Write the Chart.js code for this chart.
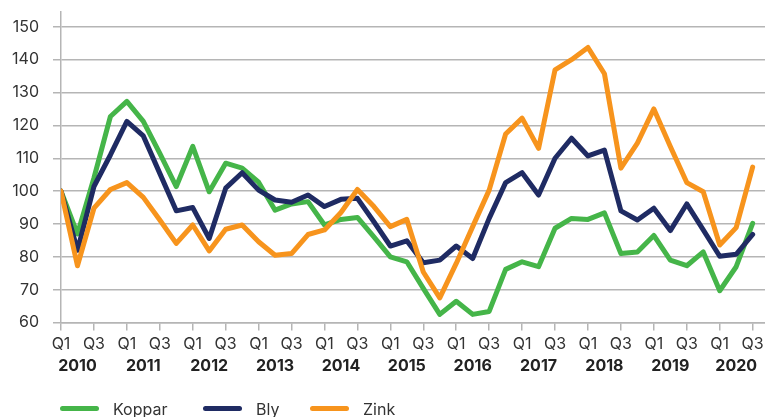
<!DOCTYPE html>
<html>
<head>
<meta charset="utf-8">
<script src="https://cdn.jsdelivr.net/npm/chart.js@4"></script>
<style>
  html, body { margin: 0; padding: 0; background: #fff; }
  #wrap { position: relative; width: 765px; height: 417px; overflow: hidden; }
  .item { position: absolute; top: 399px; display: flex; align-items: center; font-family: Inter, sans-serif; font-size: 16px; color: #333; line-height: 20px; }
  .swatch { width: 39px; height: 5px; border-radius: 3px; margin-right: 14px; position: relative; top: -1px; }
</style>
</head>
<body>
<div id="wrap">
  <canvas id="c" width="765" height="417"></canvas>
</div>
<script>
const quarterLabels = [];
const yearLabels = ['2010','2011','2012','2013','2014','2015','2016','2017','2018','2019','2020'];
for (const y of yearLabels) for (const q of ['Q1','Q2','Q3','Q4']) quarterLabels.push(q);
quarterLabels.length = 43; // Q1 2010 .. Q3 2020

const koppar = [100, 87, 104, 122.7, 127.3, 121.2, 111.5, 101.4, 113.6, 99.8, 108.5, 107, 102.7,
  94.2, 96.1, 96.8, 89.7, 91.4, 92, 86.1, 80, 78.5, 70.4, 62.5, 66.5, 62.5, 63.4, 76.2,
  78.5, 77, 88.7, 91.7, 91.4, 93.4, 81, 81.5, 86.5, 79, 77.3, 81.5, 69.7, 77, 90.2];
const bly = [100, 82, 101.4, 111, 121.2, 116.8, 105.4, 94, 95, 85.6, 100.9, 105.6, 100.3,
  97.3, 96.6, 98.8, 95.3, 97.5, 97.8, 90.7, 83.3, 84.9, 78.2, 79, 83.3, 79.5, 91.7, 102.6,
  105.6, 98.8, 110, 116.1, 110.7, 112.5, 94, 91.2, 94.8, 88, 96.1, 88.2, 80.2, 80.8, 86.8];
const zink = [100, 77.3, 94.8, 100.5, 102.6, 98.1, 91.2, 84.1, 89.7, 81.8, 88.4, 89.7, 84.6,
  80.5, 81, 86.8, 88.2, 93.5, 100.5, 95.3, 89.2, 91.4, 75.4, 67.5, 78, 89.2, 100.3, 117.4,
  122.2, 113, 136.9, 140, 143.7, 135.7, 107, 114.6, 125, 113.6, 102.6, 99.8, 83.6, 88.9, 107.3];
const yTicks = [60, 70, 80, 90, 100, 110, 120, 130, 140, 150];

const series = [
  { label: 'Koppar', data: koppar, color: '#45b549', order: 2 },
  { label: 'Bly', data: bly, color: '#1f2b63', order: 1 },
  { label: 'Zink', data: zink, color: '#f7941d', order: 0 }
];
const legendLeft = [60, 203, 310];

const FONT = 'Inter, sans-serif';
const GRID = '#b5b5b5';
const noPad = ax => { ax.paddingTop = 0; ax.paddingRight = 0; ax.paddingLeft = 0; ax.paddingBottom = 0; };

new Chart(document.getElementById('c'), {
  type: 'line',
  data: {
    datasets: series.map(s => ({
      label: s.label,
      data: s.data.map((v, i) => ({ x: i, y: v })),
      borderColor: s.color,
      backgroundColor: s.color,
      borderWidth: 5,
      pointRadius: 0,
      tension: 0,
      borderCapStyle: 'round',
      borderJoinStyle: 'round',
      order: s.order
    }))
  },
  options: {
    responsive: false,
    animation: false,
    layout: { padding: { top: 12, right: 0, bottom: 42, left: 0 } },
    plugins: { legend: { display: false }, tooltip: { enabled: false } },
    scales: {
      x: {
        type: 'linear', position: 'bottom', min: 0, max: 42.75,
        afterBuildTicks: ax => { ax.ticks = quarterLabels.map((q, i) => i).filter(i => i % 2 === 0).map(v => ({ value: v })); },
        afterFit: noPad,
        ticks: { callback: v => quarterLabels[v], font: { family: FONT, size: 16 }, color: '#333', padding: 4, maxRotation: 0, autoSkip: false },
        grid: { drawOnChartArea: false, drawTicks: true, tickLength: 8, color: GRID, lineWidth: 1.5 },
        border: { display: true, color: GRID, width: 1.5 }
      },
      x2: {
        type: 'linear', position: 'bottom', min: 0, max: 42.75,
        afterBuildTicks: ax => { ax.ticks = yearLabels.map((y, k) => ({ value: 4 * k + 1 })); },
        afterFit: noPad,
        ticks: { callback: v => yearLabels[(v - 1) / 4], font: { family: FONT, size: 16, weight: 'bold' }, color: '#222', padding: -1, maxRotation: 0, autoSkip: false },
        grid: { display: false, drawTicks: false, tickLength: 0 },
        border: { display: false }
      },
      y: {
        min: 60, max: 154.5,
        afterBuildTicks: ax => { ax.ticks = yTicks.map(v => ({ value: v })); },
        afterFit: ax => { ax.width = 61; noPad(ax); },
        ticks: { font: { family: FONT, size: 16 }, color: '#333', padding: 14 },
        grid: { color: GRID, lineWidth: 1.5, tickLength: 8 },
        border: { display: true, color: GRID, width: 1.5 }
      }
    }
  }
});

const wrap = document.getElementById('wrap');
series.forEach((s, k) => {
  const it = document.createElement('div');
  it.className = 'item';
  it.style.left = legendLeft[k] + 'px';
  it.innerHTML = '<span class="swatch" style="background:' + s.color + '"></span><span>' + s.label + '</span>';
  wrap.appendChild(it);
});
</script>
</body>
</html>
